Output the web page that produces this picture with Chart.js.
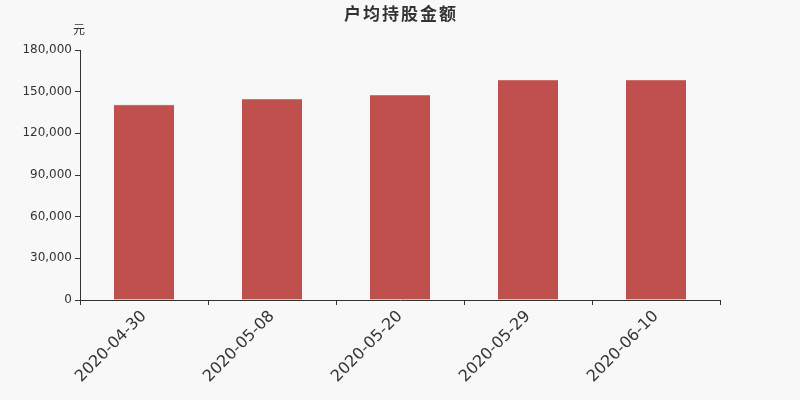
<!DOCTYPE html>
<html>
<head>
<meta charset="utf-8">
<script src="https://cdn.jsdelivr.net/npm/chart.js@4/dist/chart.umd.min.js"></script>
<style>
    html, body { margin: 0; padding: 0; background: #f8f8f8; }
    #chart { display: block; }
</style>
</head>
<body>
<canvas id="chart" width="800" height="400"></canvas>
<script>
// Chart data
const dates = ['2020-04-30', '2020-05-08', '2020-05-20', '2020-05-29', '2020-06-10'];
const avgHolding = [140300, 144400, 147300, 158100, 158100];
const yTicks = [0, 30000, 60000, 90000, 120000, 150000, 180000];

const titleText = '户均持股金额';
const unitText = '元';
const textColor = '#333333';
const barColor = '#c0504d';

// Title and unit label, drawn on top of the canvas
const labelsPlugin = {
    id: 'labels',
    afterDraw(chart) {
        const ctx = chart.ctx;
        ctx.save();
        ctx.fillStyle = textColor;
        ctx.textAlign = 'center';
        ctx.textBaseline = 'middle';
        ctx.font = 'bold 17px "Noto Sans CJK SC", sans-serif';
        if ('letterSpacing' in ctx) ctx.letterSpacing = '2px';
        ctx.fillText(titleText, 401, 14);
        if ('letterSpacing' in ctx) ctx.letterSpacing = '0px';
        ctx.font = '12px "Noto Sans CJK SC", sans-serif';
        ctx.fillText(unitText, 79, 29);
        ctx.restore();
    }
};

const bgPlugin = {
    id: 'bg',
    beforeDraw(chart) {
        const ctx = chart.ctx;
        ctx.save();
        ctx.fillStyle = '#f8f8f8';
        ctx.fillRect(0, 0, chart.width, chart.height);
        ctx.restore();
    }
};

const ctx = document.getElementById('chart').getContext('2d');

new Chart(ctx, {
    type: 'bar',
    data: {
        labels: dates,
        datasets: [{
            data: avgHolding,
            backgroundColor: barColor,
            borderColor: '#cf726f',
            borderWidth: { top: 1, left: 0, right: 0, bottom: 0 },
            borderSkipped: 'bottom',
            barThickness: 60
        }]
    },
    options: {
        responsive: false,
        animation: false,
        devicePixelRatio: 1,
        layout: {
            padding: { top: 50, right: 80, left: 0, bottom: 0 }
        },
        plugins: {
            legend: { display: false },
            title: { display: false },
            tooltip: { enabled: false }
        },
        scales: {
            x: {
                afterFit(scale) { scale.height = 100; },
                grid: {
                    offset: true,
                    drawOnChartArea: false,
                    drawTicks: true,
                    tickLength: 5,
                    color: textColor
                },
                border: { color: textColor },
                ticks: {
                    color: textColor,
                    maxRotation: 45,
                    minRotation: 45,
                    padding: 2,
                    font: { family: 'DejaVu Sans', size: 16 }
                }
            },
            y: {
                min: 0,
                max: 180000,
                afterFit(scale) { scale.width = 80; },
                afterBuildTicks(scale) {
                    scale.ticks = yTicks.map(v => ({ value: v }));
                },
                grid: {
                    drawOnChartArea: false,
                    drawTicks: true,
                    tickLength: 5,
                    color: textColor
                },
                border: { color: textColor },
                ticks: {
                    color: textColor,
                    padding: 3,
                    font: { family: 'DejaVu Sans', size: 12 },
                    callback: function(value) {
                        return value.toLocaleString('en-US');
                    }
                }
            }
        }
    },
    plugins: [bgPlugin, labelsPlugin]
});
</script>
</body>
</html>
